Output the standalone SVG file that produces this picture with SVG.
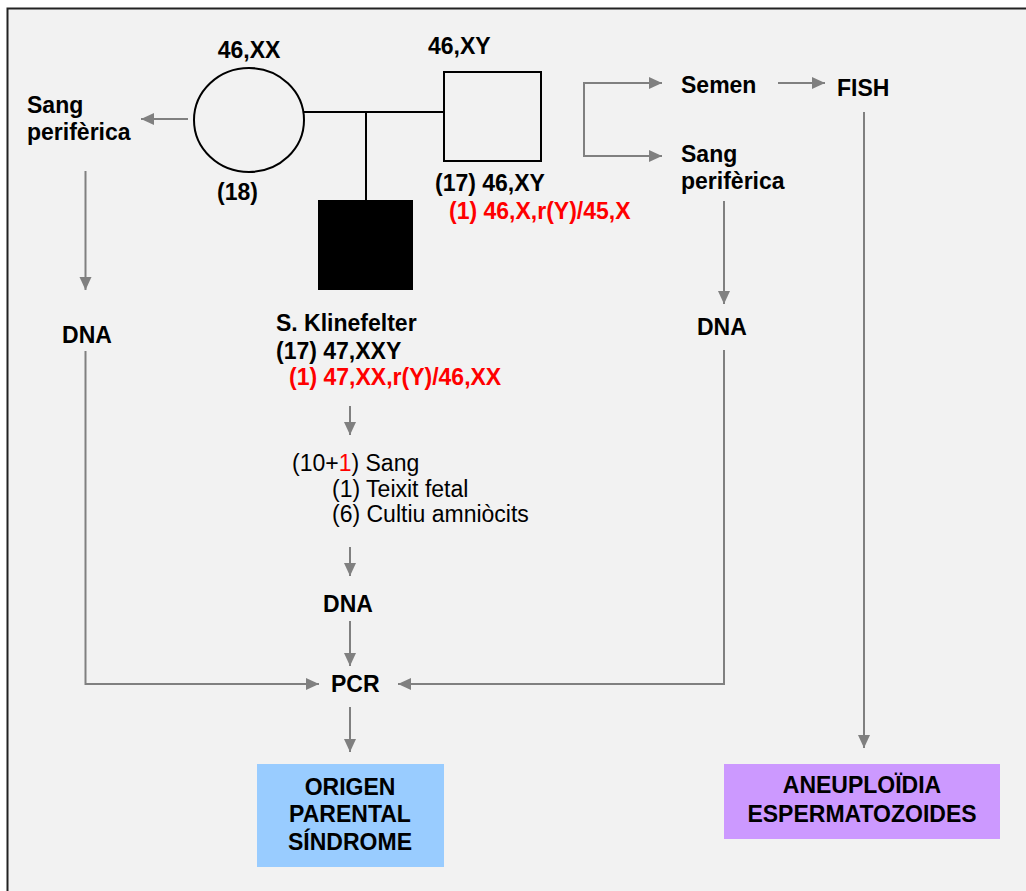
<svg xmlns="http://www.w3.org/2000/svg" width="1026" height="891" viewBox="0 0 1026 891">
<style>
text{font-family:"Liberation Sans",Arial,sans-serif;font-size:23px;fill:#000}
.b{font-weight:bold}
.r{fill:#ff0000}
.m{text-anchor:middle}
.ped{stroke:#000;stroke-width:2;fill:none}
.con{stroke:#808080;stroke-width:2;fill:none}
</style>
<defs>
<marker id="ah" markerUnits="userSpaceOnUse" markerWidth="14" markerHeight="14" refX="13" refY="6" orient="auto">
<path d="M0,0 L13,6 L0,12 z" fill="#808080"/>
</marker>
</defs>
<rect x="0" y="0" width="1026" height="891" fill="#ffffff"/>
<rect x="7.5" y="8.5" width="1040" height="900" fill="#f2f2f2" stroke="#222" stroke-width="2"/>

<g id="pedigree-lines">
<line class="ped" x1="304" y1="112" x2="444" y2="112"/>
<line class="ped" x1="366" y1="112" x2="366" y2="200"/>
</g>

<g id="mother">
<ellipse class="ped" cx="249" cy="120" rx="55" ry="52"/>
<text class="b m" x="249" y="58">46,XX</text>
<text class="b" x="217" y="200">(18)</text>
</g>

<g id="father">
<rect class="ped" x="444" y="72" width="97" height="89"/>
<text class="b" x="428" y="54">46,XY</text>
<text class="b" x="435" y="191">(17) 46,XY</text>
<text class="b r" x="449" y="219">(1) 46,X,r(Y)/45,X</text>
</g>

<g id="child">
<rect x="318" y="200" width="95" height="90" fill="#000"/>
<text class="b" x="276" y="331">S. Klinefelter</text>
<text class="b" x="276" y="359">(17) 47,XXY</text>
<text class="b r" x="289" y="385">(1) 47,XX,r(Y)/46,XX</text>
</g>

<g id="samples">
<text x="292" y="471">(10+<tspan class="r">1</tspan>) Sang</text>
<text x="332" y="497">(1) Teixit fetal</text>
<text x="332" y="522">(6) Cultiu amniòcits</text>
</g>

<g id="sang-left">
<text class="b" x="27" y="113">Sang</text>
<text class="b" x="27" y="140">perifèrica</text>
</g>
<g id="dna-left"><text class="b m" x="87" y="343">DNA</text></g>
<g id="dna-center"><text class="b m" x="348" y="612">DNA</text></g>
<g id="pcr"><text class="b" x="331" y="692">PCR</text></g>
<g id="semen"><text class="b" x="681" y="93">Semen</text></g>
<g id="fish"><text class="b" x="837" y="96">FISH</text></g>
<g id="sang-right">
<text class="b" x="681" y="162">Sang</text>
<text class="b" x="681" y="189">perifèrica</text>
</g>
<g id="dna-right"><text class="b" x="697" y="335">DNA</text></g>

<g id="origen">
<rect x="257" y="764" width="187" height="103" fill="#99ccff"/>
<text class="b m" x="350" y="795">ORIGEN</text>
<text class="b m" x="350" y="822">PARENTAL</text>
<text class="b m" x="350" y="850">SÍNDROME</text>
</g>

<g id="aneuploidia">
<rect x="724" y="764" width="276" height="75" fill="#cc99ff"/>
<text class="b m" x="862" y="793">ANEUPLOÏDIA</text>
<text class="b m" x="862" y="822">ESPERMATOZOIDES</text>
</g>

<g id="connectors">
<line class="con" x1="188" y1="119" x2="141" y2="119" marker-end="url(#ah)"/>
<line class="con" x1="85.5" y1="171" x2="85.5" y2="290" marker-end="url(#ah)"/>
<polyline class="con" points="85.5,351 85.5,684 319,684" marker-end="url(#ah)"/>
<line class="con" x1="350" y1="406" x2="350" y2="435" marker-end="url(#ah)"/>
<line class="con" x1="350" y1="547" x2="350" y2="576" marker-end="url(#ah)"/>
<line class="con" x1="350" y1="621" x2="350" y2="666" marker-end="url(#ah)"/>
<line class="con" x1="350" y1="707" x2="350" y2="752" marker-end="url(#ah)"/>
<line class="con" x1="584" y1="82" x2="584" y2="157"/>
<line class="con" x1="583" y1="83" x2="662" y2="83" marker-end="url(#ah)"/>
<line class="con" x1="583" y1="156" x2="662" y2="156" marker-end="url(#ah)"/>
<line class="con" x1="778" y1="83" x2="825" y2="83" marker-end="url(#ah)"/>
<line class="con" x1="724" y1="201" x2="724" y2="304" marker-end="url(#ah)"/>
<polyline class="con" points="724,350 724,684 398,684" marker-end="url(#ah)"/>
<line class="con" x1="864" y1="112" x2="864" y2="748" marker-end="url(#ah)"/>
</g>
</svg>
